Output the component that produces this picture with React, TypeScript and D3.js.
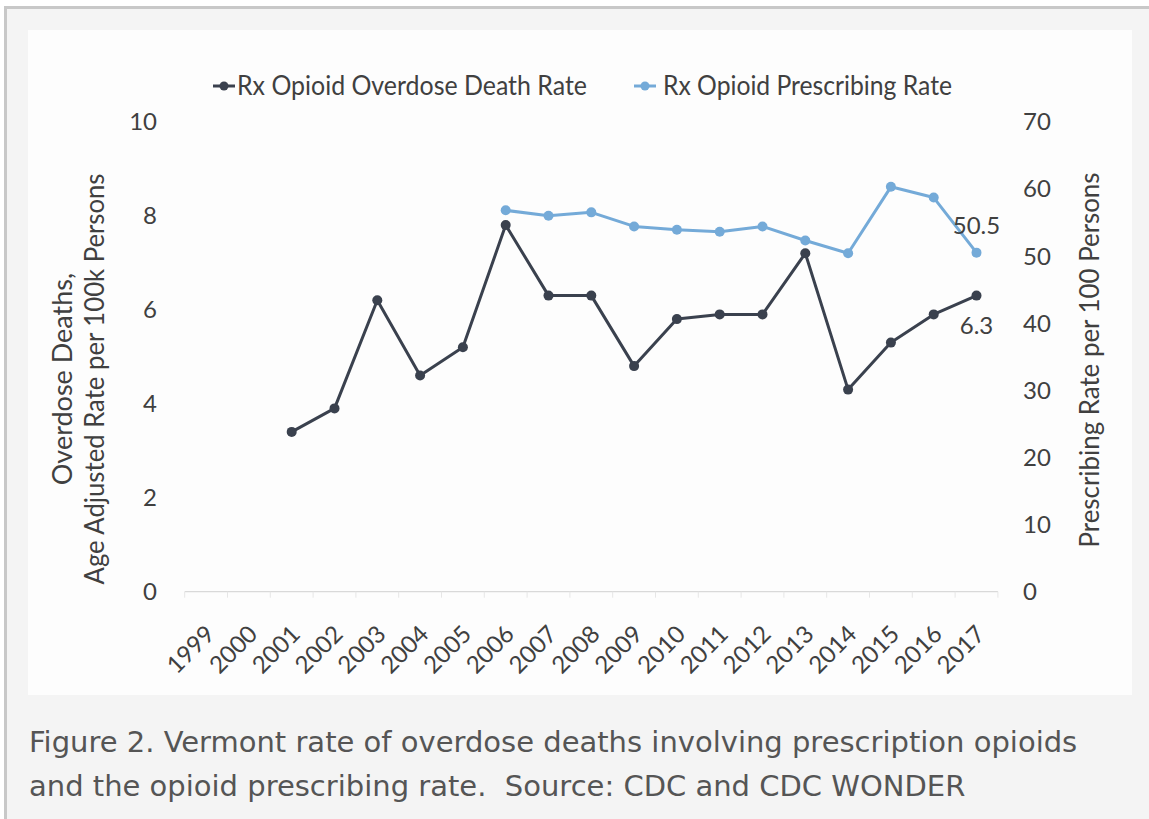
import React from 'react';
import * as d3 from 'd3';

// Calendar years shown on the category axis
const years = [
  '1999', '2000', '2001', '2002', '2003', '2004', '2005', '2006', '2007', '2008',
  '2009', '2010', '2011', '2012', '2013', '2014', '2015', '2016', '2017',
];

// Rx opioid overdose deaths, age adjusted rate per 100k persons (left axis)
const deathRate: (number | null)[] = [
  null, null, 3.4, 3.9, 6.2, 4.6, 5.2, 7.8, 6.3, 6.3,
  4.8, 5.8, 5.9, 5.9, 7.2, 4.3, 5.3, 5.9, 6.3,
];

// Rx opioid prescribing rate per 100 persons (right axis)
const prescribingRate: (number | null)[] = [
  null, null, null, null, null, null, null, 56.8, 56.0, 56.5,
  54.4, 53.9, 53.6, 54.4, 52.3, 50.4, 60.3, 58.7, 50.5,
];

const leftTicks = [0, 2, 4, 6, 8, 10];
const rightTicks = [0, 10, 20, 30, 40, 50, 60, 70];

const seriesNames = ['Rx Opioid Overdose Death Rate', 'Rx Opioid Prescribing Rate'];

const W = 1149;
const H = 819;
const CHART_FONT = 'Lato, "Open Sans", sans-serif';
const DARK = '#3a414e';
const LIGHT = '#74aad8';
const TEXT = '#404040';

export default function App() {
  const x = d3.scaleBand<string>().domain(years).range([184.7, 997.9]).padding(0);
  const cx = (yr: string) => (x(yr) ?? 0) + x.bandwidth() / 2;
  const yLeft = d3.scaleLinear().domain([0, 10]).range([591.7, 121.7]);
  const yRight = d3.scaleLinear().domain([0, 70]).range([591.7, 121.7]);

  const deathPts = years
    .map((yr, i) => ({ yr, v: deathRate[i] }))
    .filter((d) => d.v !== null) as { yr: string; v: number }[];
  const rxPts = years
    .map((yr, i) => ({ yr, v: prescribingRate[i] }))
    .filter((d) => d.v !== null) as { yr: string; v: number }[];

  const deathLine = d3
    .line<{ yr: string; v: number }>()
    .x((d) => cx(d.yr))
    .y((d) => yLeft(d.v));
  const rxLine = d3
    .line<{ yr: string; v: number }>()
    .x((d) => cx(d.yr))
    .y((d) => yRight(d.v));

  const lastDeath = deathPts[deathPts.length - 1];
  const lastRx = rxPts[rxPts.length - 1];
  const [x0, x1] = x.range();
  const base = yLeft(0);

  return (
    <svg
      width={W}
      height={H}
      viewBox={`0 0 ${W} ${H}`}
      style={{ position: 'fixed', left: 0, top: 0, display: 'block' }}
    >
      {/* page frame */}
      <rect x={0} y={0} width={W} height={H} fill="#ffffff" />
      <rect x={4} y={6} width={W - 4} height={H - 6} fill="#f4f4f4" />
      <rect x={4} y={6} width={W - 4} height={3} fill="#c8c8c8" />
      <rect x={4} y={6} width={3} height={H - 6} fill="#c8c8c8" />

      {/* chart panel */}
      <rect x={28} y={30} width={1104} height={665} fill="#fdfdfd" />

      {/* legend */}
      <g fontFamily={CHART_FONT} fontSize={26} fill={TEXT}>
        <line x1={213} x2={235} y1={86} y2={86} stroke={DARK} strokeWidth={3} />
        <circle cx={224} cy={86} r={4.5} fill={DARK} />
        <text x={237} y={95} textLength={350} lengthAdjust="spacingAndGlyphs">
          {seriesNames[0]}
        </text>
        <line x1={634} x2={656} y1={86} y2={86} stroke={LIGHT} strokeWidth={3} />
        <circle cx={645} cy={86} r={4.5} fill={LIGHT} />
        <text x={663} y={95} textLength={289} lengthAdjust="spacingAndGlyphs">
          {seriesNames[1]}
        </text>
      </g>

      {/* baseline and category ticks */}
      <line x1={x0} x2={x1} y1={base} y2={base} stroke="#d9d9d9" strokeWidth={1.2} />
      {years.concat(['end']).map((yr, i) => {
        const xx = i < years.length ? (x(yr) ?? 0) : x1;
        return (
          <line key={`t${i}`} x1={xx} x2={xx} y1={base} y2={base + 6} stroke="#e6e6e6" strokeWidth={1} />
        );
      })}

      {/* value axes */}
      <g fontFamily={CHART_FONT} fontSize={24} fill={TEXT}>
        {leftTicks.map((t) => (
          <text key={`l${t}`} x={157} y={yLeft(t)} dy="0.36em" textAnchor="end">
            {t}
          </text>
        ))}
        {rightTicks.map((t) => (
          <text key={`r${t}`} x={1023} y={yRight(t)} dy="0.36em" textAnchor="start">
            {t}
          </text>
        ))}
      </g>

      {/* axis titles */}
      <g fontFamily={CHART_FONT} fontSize={27} fill={TEXT} textAnchor="middle">
        <text transform={`translate(63,379) rotate(-90)`} dy="0.35em">
          Overdose Deaths,
        </text>
        <text transform={`translate(95,379) rotate(-90)`} dy="0.35em" textLength={411} lengthAdjust="spacingAndGlyphs">
          Age Adjusted Rate per 100k Persons
        </text>
        <text transform={`translate(1090,360) rotate(-90)`} dy="0.35em" textLength={375} lengthAdjust="spacingAndGlyphs">
          Prescribing Rate per 100 Persons
        </text>
      </g>

      {/* category labels */}
      <g fontFamily={CHART_FONT} fontSize={24} fill={TEXT}>
        {years.map((yr) => (
          <text
            key={`x${yr}`}
            transform={`translate(${cx(yr) + 4},${base + 38}) rotate(-45)`}
            textAnchor="end"
            dy="0.35em"
          >
            {yr}
          </text>
        ))}
      </g>

      {/* series */}
      <path d={rxLine(rxPts) ?? ''} fill="none" stroke={LIGHT} strokeWidth={3} strokeLinejoin="round" />
      {rxPts.map((d) => (
        <circle key={`rx${d.yr}`} cx={cx(d.yr)} cy={yRight(d.v)} r={5} fill={LIGHT} />
      ))}
      <path d={deathLine(deathPts) ?? ''} fill="none" stroke={DARK} strokeWidth={3} strokeLinejoin="round" />
      {deathPts.map((d) => (
        <circle key={`dr${d.yr}`} cx={cx(d.yr)} cy={yLeft(d.v)} r={5} fill={DARK} />
      ))}

      {/* value labels on the last year */}
      <g fontFamily={CHART_FONT} fontSize={24} fill={TEXT} textAnchor="middle">
        <text x={cx(lastRx.yr)} y={yRight(lastRx.v) - 27} dy="0.36em">
          {lastRx.v.toFixed(1)}
        </text>
        <text x={cx(lastDeath.yr)} y={yLeft(lastDeath.v) + 30} dy="0.36em">
          {lastDeath.v.toFixed(1)}
        </text>
      </g>

      {/* caption */}
      <g fontFamily='"DejaVu Sans", sans-serif' fontSize={29} fill="#555555">
        <text x={29} y={752}>
          Figure 2. Vermont rate of overdose deaths involving prescription opioids
        </text>
        <text x={29} y={796} style={{ whiteSpace: 'pre' }}>
          {'and the opioid prescribing rate.  Source: CDC and CDC WONDER'}
        </text>
      </g>
    </svg>
  );
}
